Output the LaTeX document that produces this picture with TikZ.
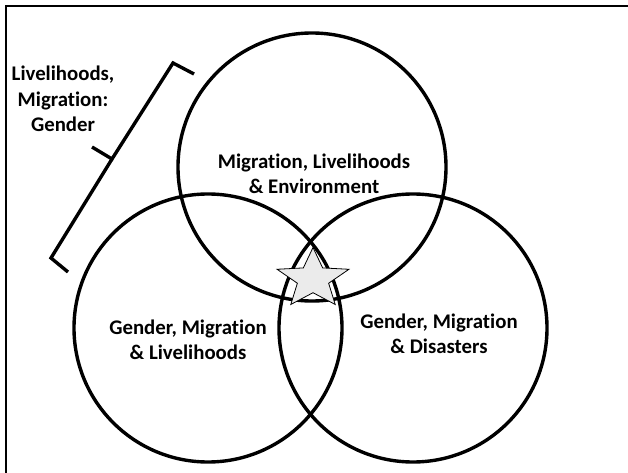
\documentclass[tikz,border=0pt]{standalone}
\usepackage{fontspec}
\setmainfont[Ligatures=NoCommon]{Carlito}
\usetikzlibrary{shapes.geometric}
\begin{document}
\begin{tikzpicture}[x=1pt,y=-1pt,
  venn/.style={circle, draw=black, line width=3.4pt, minimum size=268pt, inner sep=0pt},
  lbl/.style={font=\fontsize{20.8}{25.5}\selectfont\bfseries, align=center, inner sep=0pt},
  bracket/.style={line width=3.4pt, line join=miter}]
\useasboundingbox (0,0) rectangle (628,473);
\coordinate (f1) at (6,473);
\coordinate (f2) at (6,6);
\coordinate (f3) at (628,6);
\draw[line width=1.5pt] (f1) -- (f2) -- (f3);
\node[venn] (topc) at (312,167) {};
\node[venn] (leftc) at (208,328) {};
\node[venn] (rightc) at (413,328) {};
\node[lbl] (ttop) at (314,174) {Migration, Livelihoods\\\& Environment};
\node[lbl] (tleft) at (188,340) {Gender, Migration\\\& Livelihoods};
\node[lbl] (tright) at (439,334) {Gender, Migration\\\& Disasters};
\node[lbl] (tbrace) at (63,99) {Livelihoods,\\Migration:\\Gender};
\coordinate (b1) at (194,74);
\coordinate (b2) at (173,63);
\coordinate (b3) at (112,159);
\coordinate (b4) at (92,147);
\coordinate (b5) at (51,258);
\coordinate (b6) at (68,272);
\draw[bracket] (b1) -- (b2) -- (b3) -- (b4);
\draw[bracket] (b3) -- (b5) -- (b6);
\node[star, star points=5, star point ratio=2.3, draw=black, line width=0.8pt, fill=black!8,
  minimum size=63pt, inner sep=0pt, xscale=1.2] (star) at (313,279) {};
\end{tikzpicture}
\end{document}
